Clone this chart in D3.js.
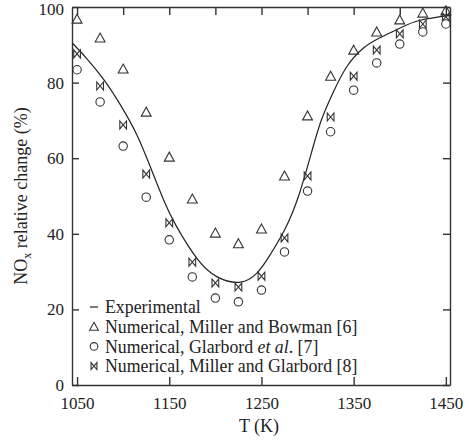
<!DOCTYPE html>
<html>
<head>
<meta charset="utf-8">
<script src="https://cdn.jsdelivr.net/npm/d3@7"></script>
<style>
  body { margin: 0; background: #fff; }
  svg text { font-family: "Liberation Serif", "DejaVu Serif", serif; }
</style>
</head>
<body>
<div id="chart"></div>
<script>
// temperatures of the numerical points
const temps = [1050, 1075, 1100, 1125, 1150, 1175, 1200, 1225, 1250, 1275, 1300, 1325, 1350, 1375, 1400, 1425, 1450];
// Numerical, Miller and Bowman [6]
const millerBowman = [96.8, 91.8, 83.6, 72.2, 60.3, 49.2, 40.2, 37.4, 41.3, 55.3, 71.2, 81.7, 88.6, 93.4, 96.6, 98.4, 99.0];
// Numerical, Glarbord et al. [7]
const glarbord = [83.4, 74.9, 63.2, 49.7, 38.4, 28.6, 23.0, 22.0, 25.1, 35.2, 51.3, 67.0, 78.0, 85.2, 90.2, 93.4, 95.5];
// Numerical, Miller and Glarbord [8]
const millerGlarbord = [87.6, 79.1, 68.8, 55.8, 42.9, 32.5, 27.0, 25.9, 28.8, 38.9, 55.3, 70.9, 81.7, 88.6, 92.9, 95.5, 97.4];
const expT = [1045, 1060, 1078, 1097, 1115, 1129, 1144, 1158, 1180, 1202, 1227, 1245, 1258, 1275, 1290, 1303, 1315, 1328, 1342, 1360, 1378, 1400, 1422, 1455];
const expV = [90.4, 86.5, 81.1, 74.1, 66.1, 58.0, 48.9, 41.9, 33.5, 28.6, 27.2, 29.6, 33.9, 41.0, 49.8, 60.4, 70.1, 77.5, 84.0, 89.0, 91.8, 94.4, 96.5, 97.8];

const xTicks = [1050, 1150, 1250, 1350, 1450];
const xMinor = [1050, 1100, 1150, 1200, 1250, 1300, 1350, 1400, 1450];
const yTicks = [0, 20, 40, 60, 80, 100];

const W = 469, H = 445;
const margin = {left: 72, right: 19, top: 7, bottom: 60};
const iw = W - margin.left - margin.right, ih = H - margin.top - margin.bottom;

const svg = d3.select("#chart").append("svg")
  .attr("width", W).attr("height", H);
const g = svg.append("g").attr("transform", `translate(${margin.left},${margin.top})`);

const x = d3.scaleLinear().domain([1044.5, 1454.5]).range([0, iw]);
const y = d3.scaleLinear().domain([0, 100]).range([ih, 0]);

const ink = "#333";
const fs = 17;

// axes (ticks inward)
g.append("g").attr("transform", `translate(0,${ih})`)
  .call(d3.axisBottom(x).tickValues(xTicks).tickSizeInner(-8).tickSizeOuter(0).tickPadding(12).tickFormat(d3.format("d")));
g.append("g")
  .call(d3.axisTop(x).tickValues(xMinor).tickSizeInner(-8).tickSizeOuter(0).tickFormat(""));
g.append("g")
  .call(d3.axisLeft(y).tickValues(yTicks).tickSizeInner(-7).tickSizeOuter(0).tickPadding(8))
  .call(a => a.selectAll(".tick text").filter(d => d === 100).attr("y", 2));
g.append("g").attr("transform", `translate(${iw},0)`)
  .call(d3.axisRight(y).tickValues(yTicks).tickSizeInner(-7).tickSizeOuter(0).tickFormat(""));
g.selectAll("g").attr("font-family", null);
g.selectAll(".tick text").attr("font-size", fs).attr("fill", "#222");
g.selectAll(".domain, .tick line").attr("stroke", ink).attr("stroke-width", 1.4);

// experimental curve
const line = d3.line()
  .x((d, i) => x(expT[i]))
  .y(d => y(d))
  .curve(d3.curveNatural);
g.append("path")
  .datum(expV)
  .attr("fill", "none").attr("stroke", "#222").attr("stroke-width", 1.2)
  .attr("d", line);

// marker shapes
function triangle(s) { return `M0,${-s * 0.55}L${s * 0.55},${s * 0.45}L${-s * 0.55},${s * 0.45}Z`; }
function bowtie(s) { return `M${-s * 0.42},${-s / 2}L${-s * 0.42},${s / 2}L${s * 0.42},${-s / 2}L${s * 0.42},${s / 2}Z`; }
function circle(r) { return d3.symbol(d3.symbolCircle, Math.PI * r * r)(); }

function drawMarks(vals, kind) {
  const sel = g.append("g").selectAll("path").data(vals).join("path")
    .attr("transform", (d, i) => `translate(${x(temps[i])},${y(d)})`)
    .attr("fill", "none").attr("stroke", ink).attr("stroke-width", 1.1);
  if (kind === "tri") sel.attr("d", triangle(9));
  else if (kind === "circ") sel.attr("d", circle(4.2));
  else sel.attr("d", bowtie(8));
}
drawMarks(millerBowman, "tri");
drawMarks(glarbord, "circ");
drawMarks(millerGlarbord, "bow");

// legend
const leg = svg.append("g").attr("transform", "translate(94,307)");
const rows = [
  {kind: "line", parts: [["Experimental", false]]},
  {kind: "tri", parts: [["Numerical, Miller and Bowman [6]", false]]},
  {kind: "circ", parts: [["Numerical, Glarbord ", false], ["et al", true], [". [7]", false]]},
  {kind: "bow", parts: [["Numerical, Miller and Glarbord [8]", false]]}
];
rows.forEach((r, i) => {
  const row = leg.append("g").attr("transform", `translate(0,${i * 19.7})`);
  if (r.kind === "line") row.append("line").attr("x1", -4).attr("x2", 4).attr("stroke", "#222").attr("stroke-width", 1.2);
  else if (r.kind === "tri") row.append("path").attr("d", triangle(8)).attr("fill", "none").attr("stroke", ink).attr("stroke-width", 1.1);
  else if (r.kind === "circ") row.append("path").attr("d", circle(3.8)).attr("fill", "none").attr("stroke", ink).attr("stroke-width", 1.1);
  else row.append("path").attr("d", bowtie(7)).attr("fill", "none").attr("stroke", ink).attr("stroke-width", 1.1);
  const t = row.append("text").attr("x", 11).attr("dy", "0.35em").attr("font-size", 17.8).attr("fill", "#222");
  r.parts.forEach(p => t.append("tspan").attr("font-style", p[1] ? "italic" : null).text(p[0]));
});

// axis titles
svg.append("text").attr("x", margin.left + iw / 2 - 2).attr("y", 432)
  .attr("text-anchor", "middle").attr("font-size", 18).attr("fill", "#222").text("T (K)");
const yl = svg.append("text")
  .attr("transform", `translate(27,${margin.top + ih / 2}) rotate(-90)`)
  .attr("text-anchor", "middle").attr("font-size", 18).attr("fill", "#222");
yl.append("tspan").text("NO");
yl.append("tspan").attr("font-size", 12).attr("dy", 4).text("x");
yl.append("tspan").attr("dy", -4).text(" relative change (%)");
</script>
</body>
</html>
